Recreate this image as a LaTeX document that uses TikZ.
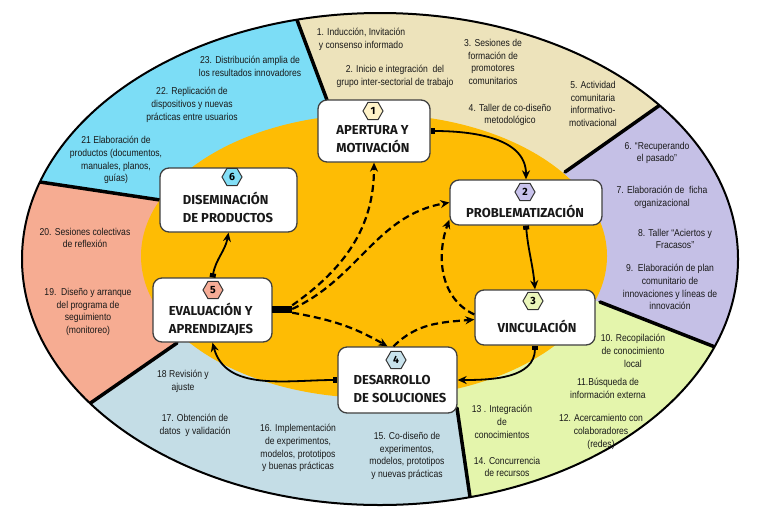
\documentclass[tikz,border=0pt]{standalone}
\usepackage{fontspec}
\usetikzlibrary{arrows.meta,shapes.geometric}
\newfontfamily\myringfamily{Liberation Sans}[FakeStretch=0.86]
\newfontfamily\myboxfamily{Fira Sans}
\newcommand\myringfont{\myringfamily\fontsize{10}{12.8}\selectfont}
\newcommand\myboxfont{\myboxfamily\bfseries\fontsize{13}{18}\selectfont}
\definecolor{cBeige}{RGB}{237,227,187}
\definecolor{cPurple}{RGB}{197,192,230}
\definecolor{cGreen}{RGB}{228,245,172}
\definecolor{cGray}{RGB}{196,221,230}
\definecolor{cPink}{RGB}{246,172,146}
\definecolor{cCyan}{RGB}{124,221,246}
\definecolor{cOrange}{RGB}{254,188,4}
\definecolor{bgA}{RGB}{255,243,200}
\definecolor{bgB}{RGB}{200,194,236}
\definecolor{bgC}{RGB}{234,246,186}
\definecolor{bgD}{RGB}{200,226,236}
\definecolor{bgE}{RGB}{246,172,150}
\definecolor{bgF}{RGB}{130,222,246}
\tikzset{
 ring/.style={font=\myringfont, align=center, text=black!90, inner sep=0pt},
 box/.style={draw=black!75, line width=1.3pt, fill=white, rounded corners=9pt, inner sep=0pt},
 boxlabel/.style={font=\myboxfont, align=left, inner sep=0pt, text=black!90},
 badge/.style={regular polygon, regular polygon sides=6, draw=black!80, line width=1pt, minimum size=20pt, inner sep=0pt, font=\myboxfamily\bfseries\fontsize{10.5}{10.5}\selectfont},
 solidarrow/.style={line width=1.8pt, {Square[length=4pt,width=6pt]}-{Stealth[length=9pt,width=8pt]}},
 dasharrow/.style={line width=2.2pt, dash pattern=on 7pt off 4pt, -{Stealth[length=9pt,width=8pt]}},
 divider/.style={line width=3.5pt, line cap=round}
}
\begin{document}
\begin{tikzpicture}[x=1pt,y=-1pt]
\useasboundingbox (0,0) rectangle (759,517);
\fill[white] (0,0) rectangle (759,517);
\begin{scope}
\clip (380,259) ellipse [x radius=358pt, y radius=246pt];
\fill[cBeige] (374,256) -- (327,100) -- (267,-60) -- (800,-60) -- (755,38) -- (565,172) -- cycle;
\fill[cPurple] (374,256) -- (565,172) -- (755,38) -- (900,38) -- (830,392) -- (600,302) -- cycle;
\fill[cGreen] (374,256) -- (600,302) -- (830,392) -- (830,600) -- (483,586) -- (457,408) -- cycle;
\fill[cGray] (374,256) -- (457,408) -- (483,586) -- (-78,586) -- (-78,520) -- (177,343) -- cycle;
\fill[cPink] (374,256) -- (177,343) -- (-78,520) -- (-80,164) -- (160,200) -- cycle;
\fill[cCyan] (374,256) -- (160,200) -- (-80,164) -- (-80,-60) -- (267,-60) -- (327,100) -- cycle;
\draw[divider] (327,100) -- (267,-60);
\draw[divider] (565,172) -- (755,38);
\draw[divider] (600,302) -- (830,392);
\draw[divider] (457,408) -- (483,586);
\draw[divider] (177,343) -- (-78,520);
\draw[divider] (160,200) -- (-80,164);
\end{scope}
\fill[cOrange] (374,256) ellipse [x radius=233pt, y radius=142pt];
\draw[line width=2pt] (380,259) ellipse [x radius=358pt, y radius=246pt];

\node[ring] (r1) at (361,39) {1. Inducción, Invitación\\y consenso informado};
\node[ring] (r2) at (395,76) {2. Inicio e integración\ \ del\\grupo inter-sectorial de trabajo};
\node[ring] (r3) at (493,62) {3. Sesiones de\\formación de\\promotores\\comunitarios};
\node[ring] (r4) at (510,115) {4. Taller de co-diseño\\metodológico};
\node[ring] (r5) at (593,104) {5. Actividad\\comunitaria\\informativo-\\motivacional};
\node[ring] (r6) at (657,153) {6. “Recuperando\\el pasado”};
\node[ring] (r7) at (662,197) {7. Elaboración de\ \ ficha\\organizacional};
\node[ring] (r8) at (675,239) {8. Taller “Aciertos y\\Fracasos”};
\node[ring] (r9) at (670,287) {9.\ \ Elaboración de plan\\comunitario de\\innovaciones y líneas de\\innovación};
\node[ring] (r10) at (633,351) {10. Recopilación\\de conocimiento\\local};
\node[ring] (r11) at (608,388) {11.Búsqueda de\\información externa};
\node[ring] (r12) at (601,432) {12. Acercamiento con\\colaboradores\\(redes)};
\node[ring] (r13) at (502,422) {13 . Integración\\de\\conocimientos};
\node[ring] (r14) at (507,467) {14. Concurrencia\\de recursos};
\node[ring] (r15) at (407,456) {15. Co-diseño de\\experimentos,\\modelos, prototipos\\y nuevas prácticas};
\node[ring] (r16) at (298,448) {16. Implementación\\de experimentos,\\modelos, prototipos\\y buenas prácticas};
\node[ring] (r17) at (195,425) {17. Obtención de\\datos\ \ y validación};
\node[ring] (r18) at (183,381) {18 Revisión y\\ajuste};
\node[ring] (r19) at (88,312) {19.\ \ Diseño y arranque\\del programa de\\seguimiento\\(monitoreo)};
\node[ring] (r20) at (85,238) {20. Sesiones colectivas\\de reflexión};
\node[ring] (r21) at (116,160) {21 Elaboración de\\productos (documentos,\\manuales, planos,\\guías)};
\node[ring] (r22) at (192,105) {22. Replicación de\\dispositivos y nuevas\\prácticas entre usuarios};
\node[ring] (r23) at (250,66) {23. Distribución amplia de\\los resultados innovadores};

\node[box, minimum width=112pt, minimum height=62pt] (b1) at (374,131) {};
\node[box, minimum width=152pt, minimum height=45pt] (b2) at (526,202.5) {};
\node[box, minimum width=120pt, minimum height=55pt] (b3) at (535,317.5) {};
\node[box, minimum width=119pt, minimum height=66pt] (b4) at (397.5,380) {};
\node[box, minimum width=119pt, minimum height=64pt] (b5) at (212.5,310) {};
\node[box, minimum width=137pt, minimum height=64pt] (b6) at (228.5,200) {};

\node[badge, fill=bgA] (n1) at (373,111) {1};
\node[badge, fill=bgB] (n2) at (525,192) {2};
\node[badge, fill=bgC] (n3) at (533,301) {3};
\node[badge, fill=bgD] (n4) at (396,360) {4};
\node[badge, fill=bgE] (n5) at (213,290) {5};
\node[badge, fill=bgF] (n6) at (232,177) {6};

\node[boxlabel] (t1) at (373,139) {APERTURA Y\\MOTIVACIÓN};
\node[boxlabel] (t2) at (525,211) {PROBLEMATIZACIÓN};
\node[boxlabel] (t3) at (537,326) {VINCULACIÓN};
\node[boxlabel] (t4) at (400,389) {DESARROLLO\\DE SOLUCIONES};
\node[boxlabel] (t5) at (211,319) {EVALUACIÓN Y\\APRENDIZAJES};
\node[boxlabel] (t6) at (228,207) {DISEMINACIÓN\\DE PRODUCTOS};

\node[fill=black, minimum width=20pt, minimum height=7pt, inner sep=0pt] (bar) at (282,309) {};

\draw[solidarrow] (b1.east) to[out=0,in=90] (b2.north);
\draw[solidarrow] (b2.south) to[out=-85,in=95] (b3.north);
\draw[solidarrow] (b3.south) to[out=-90,in=0] (b4.east);
\draw[solidarrow] (b4.west) to[out=180,in=-75] (b5.south);
\draw[solidarrow] (b5.north) to[out=80,in=-100] (b6.south);

\draw[dasharrow] (bar.north east) to[out=35,in=-90] (b1.south);
\draw[dasharrow] (bar.east) to[out=25,in=190] (b2.west);
\draw[dasharrow] (bar.south east) to[out=-10,in=150] ([xshift=-10pt]b4.north);
\draw[dasharrow] ([xshift=-4pt]b4.north) to[out=45,in=185] ([yshift=-2pt]b3.west);
\draw[dasharrow] ([yshift=3pt]b3.west) to[out=155,in=-110] ([yshift=6pt]b2.south west);
\end{tikzpicture}
\end{document}
